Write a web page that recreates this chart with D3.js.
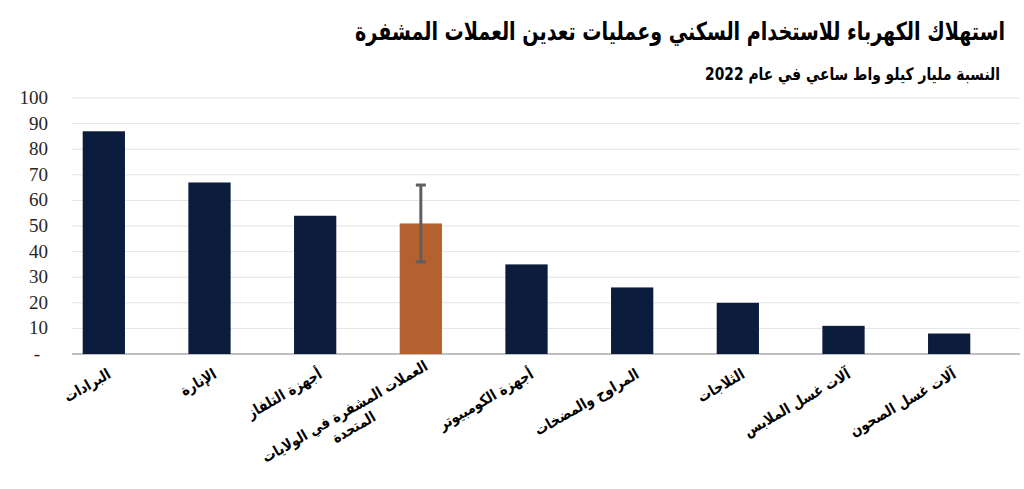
<!DOCTYPE html>
<html>
<head>
<meta charset="utf-8">
<script src="https://cdn.jsdelivr.net/npm/d3@7"></script>
<style>
  body { margin: 0; background: #fff; }
  svg { display: block; }
</style>
</head>
<body>
<svg id="chart"></svg>
<script>
"use strict";

// data
const categories = [
    "البرادات",
    "الإنارة",
    "أجهزة التلفاز",
    "العملات المشفرة في الولايات|المتحدة",
    "أجهزة الكومبيوتر",
    "المراوح والمضخات",
    "الثلاجات",
    "آلات غسل الملابس",
    "آلات غسل الصحون"
];
const values = [87, 67, 54, 51, 35, 26, 20, 11, 8];
const highlight = [false, false, false, true, false, false, false, false, false];
const errorLow = [null, null, null, 36, null, null, null, null, null];
const errorHigh = [null, null, null, 66, null, null, null, null, null];
const yTicks = [0, 10, 20, 30, 40, 50, 60, 70, 80, 90, 100];
const yTickLabels = ["-", "10", "20", "30", "40", "50", "60", "70", "80", "90", "100"];

const title = "استهلاك الكهرباء للاستخدام السكني وعمليات تعدين العملات المشفرة";
const subtitle = "النسبة مليار كيلو واط ساعي في عام 2022";

const width = 1024, height = 489;
const svg = d3.select('#chart').attr('width', width).attr('height', height);

const x = d3.scaleBand().domain(d3.range(categories.length))
    .range([51, 1002]).paddingInner(0.6).paddingOuter(0.3);
const y = d3.scaleLinear().domain([0, 100]).range([354, 98]);

// gridlines
svg.append('g').selectAll('line').data(yTicks)
    .enter().append('line')
    .attr('x1', 72).attr('x2', 1020)
    .attr('y1', d => y(d)).attr('y2', d => y(d))
    .attr('stroke', d => d == 0 ? '#bfbfbf' : '#e3e3e3')
    .attr('stroke-width', d => d == 0 ? 2 : 1);

// y labels
svg.append('g').selectAll('text').data(yTicks)
    .enter().append('text')
    .attr('x', d => d == 0 ? 40 : 48)
    .attr('y', d => y(d) + 6)
    .attr('text-anchor', 'end')
    .attr('font-family', '"Liberation Serif", "Times New Roman", serif')
    .attr('font-size', 19)
    .attr('fill', '#262626')
    .text((d, i) => yTickLabels[i]);

// bars
svg.append('g').selectAll('rect').data(values)
    .enter().append('rect')
    .attr('x', (d, i) => x(i))
    .attr('width', x.bandwidth())
    .attr('y', d => y(d))
    .attr('height', d => y(0) - y(d))
    .attr('fill', (d, i) => highlight[i] ? '#b5602f' : '#0b1c3d');

// error bar
const eb = svg.append('g').attr('stroke', '#5f5f5f').attr('stroke-width', 3);
errorLow.forEach((lo, i) => {
    if (lo == null) return;
    const cx = x(i) + x.bandwidth() / 2;
    eb.append('line').attr('x1', cx).attr('x2', cx).attr('y1', y(lo)).attr('y2', y(errorHigh[i]));
    [lo, errorHigh[i]].forEach(v => {
        eb.append('line').attr('x1', cx - 5).attr('x2', cx + 5).attr('y1', y(v)).attr('y2', y(v));
    });
});

// category labels, rotated; DejaVu is wide so squeeze it a bit
const labelFont = '"DejaVu Sans", "Liberation Sans", Arial, sans-serif';
categories.forEach((c, i) => {
    const cx = x(i) + x.bandwidth() / 2;
    const lines = c.split('|');
    const g = svg.append('g')
        .attr('transform', `translate(${cx + 8},${lines.length > 1 ? 369 : 377}) rotate(-30) scale(0.86,1)`);
    const t1 = g.append('text')
        .attr('text-anchor', 'end')
        .attr('font-family', labelFont)
        .attr('font-weight', 'bold')
        .attr('font-size', 15)
        .attr('fill', '#000')
        .text(lines[0]);
    if (lines.length > 1) {
        const len = t1.node().getComputedTextLength();
        g.append('text')
            .attr('x', -len / 2)
            .attr('y', 18)
            .attr('text-anchor', 'middle')
            .attr('font-family', labelFont)
            .attr('font-weight', 'bold')
            .attr('font-size', 15)
            .attr('fill', '#000')
            .text(lines[1]);
    }
});

// title and subtitle, squeezed horizontally to their width in the reference
function fitText(sel, right, baseline, targetWidth) {
    const w = sel.node().getComputedTextLength();
    const sx = targetWidth / w;
    sel.attr('x', 0).attr('y', 0)
        .attr('transform', `translate(${right},${baseline}) scale(${sx},1)`);
}

const t = svg.append('text')
    .attr('text-anchor', 'end')
    .attr('font-family', labelFont)
    .attr('font-weight', 'bold')
    .attr('font-size', 25)
    .attr('fill', '#000')
    .text(title);
fitText(t, 1005, 40, 650);

const st = svg.append('text')
    .attr('text-anchor', 'end')
    .attr('font-family', labelFont)
    .attr('font-weight', 'bold')
    .attr('font-size', 17)
    .attr('fill', '#000')
    .text(subtitle);
fitText(st, 1000, 80, 295);
</script>
</body>
</html>
